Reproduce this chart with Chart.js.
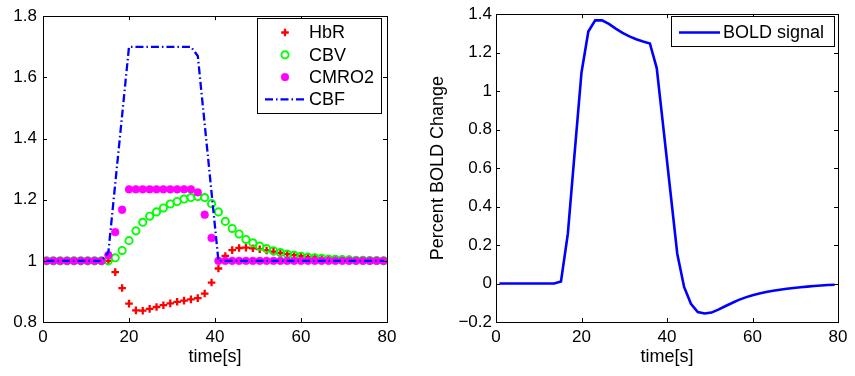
<!DOCTYPE html>
<html>
<head>
<meta charset="utf-8">
<script src="https://cdn.jsdelivr.net/npm/chart.js@4/dist/chart.umd.min.js"></script>
<style>
  html, body { margin: 0; padding: 0; background: #fff; }
  #wrap { position: relative; width: 855px; height: 376px; }
  #leftChart { position: absolute; left: 0; top: 0; }
  #rightChart { position: absolute; left: 420px; top: 0; }
</style>
</head>
<body>
<div id="wrap">
  <canvas id="leftChart" width="420" height="376"></canvas>
  <canvas id="rightChart" width="435" height="376"></canvas>
</div>
<script>
// sample times (s)
const time = [0.8, 2.4, 4, 5.6, 7.2, 8.8, 10.4, 12, 13.6, 15.2,
  16.8, 18.4, 20, 21.6, 23.2, 24.8, 26.4, 28, 29.6, 31.2,
  32.8, 34.4, 36, 37.6, 39.2, 40.8, 42.4, 44, 45.6, 47.2,
  48.8, 50.4, 52, 53.6, 55.2, 56.8, 58.4, 60, 61.6, 63.2,
  64.8, 66.4, 68, 69.6, 71.2, 72.8, 74.4, 76, 77.6, 79.2];

const hbr = [1, 1, 1, 1, 1, 1, 1, 1, 1, 1,
  0.963, 0.911, 0.860, 0.838, 0.837, 0.843, 0.849, 0.855, 0.861, 0.866,
  0.870, 0.874, 0.878, 0.893, 0.929, 0.975, 1.016, 1.035, 1.042, 1.043,
  1.041, 1.038, 1.034, 1.030, 1.026, 1.022, 1.019, 1.016, 1.013, 1.011,
  1.009, 1.007, 1.006, 1.005, 1.004, 1.003, 1.002, 1.002, 1.001, 1.001];

const cbv = [1, 1, 1, 1, 1, 1, 1, 1, 1, 1,
  1.010, 1.034, 1.066, 1.098, 1.126, 1.146, 1.160, 1.173, 1.186, 1.194,
  1.202, 1.207, 1.210, 1.207, 1.187, 1.160, 1.129, 1.106, 1.088, 1.070,
  1.059, 1.048, 1.040, 1.033, 1.027, 1.022, 1.018, 1.015, 1.012, 1.010,
  1.008, 1.006, 1.005, 1.004, 1.003, 1.002, 1.002, 1.001, 1.001, 1.0];

const cmro2 = [1, 1, 1, 1, 1, 1, 1, 1, 1, 1.019,
  1.094, 1.167, 1.234, 1.234, 1.234, 1.234, 1.234, 1.234, 1.234, 1.234,
  1.234, 1.234, 1.224, 1.151, 1.075, 1, 1, 1, 1, 1,
  1, 1, 1, 1, 1, 1, 1, 1, 1, 1,
  1, 1, 1, 1, 1, 1, 1, 1, 1, 1];

const cbf = [1, 1, 1, 1, 1, 1, 1, 1, 1, 1.028,
  1.252, 1.476, 1.7, 1.7, 1.7, 1.7, 1.7, 1.7, 1.7, 1.7,
  1.7, 1.7, 1.67, 1.447, 1.223, 1, 1, 1, 1, 1,
  1, 1, 1, 1, 1, 1, 1, 1, 1, 1,
  1, 1, 1, 1, 1, 1, 1, 1, 1, 1];

// percent BOLD change
const bold = [0, 0, 0, 0, 0, 0, 0, 0, 0, 0.011,
  0.258, 0.68, 1.097, 1.31, 1.368, 1.368, 1.35, 1.325, 1.303, 1.285,
  1.27, 1.258, 1.248, 1.12, 0.8, 0.477, 0.155, -0.018, -0.105, -0.148,
  -0.156, -0.151, -0.136, -0.118, -0.101, -0.085, -0.072, -0.061, -0.052, -0.044,
  -0.038, -0.032, -0.027, -0.023, -0.019, -0.016, -0.013, -0.010, -0.008, -0.006];

const xTicks = [0, 20, 40, 60, 80];
const leftYTicks = [0.8, 1, 1.2, 1.4, 1.6, 1.8];
const rightYTicks = [-0.2, 0, 0.2, 0.4, 0.6, 0.8, 1, 1.2, 1.4];

const FONT = "'Liberation Sans', Arial, Helvetica, sans-serif";
Chart.defaults.font.family = FONT;
Chart.defaults.color = '#000';

function pts(ys) {
    return time.map((t, i) => ({ x: t, y: ys[i] }));
}

function fmt(v) {
    const r = Math.round(v * 10) / 10;
    return r < 0 ? '\u2212' + Math.abs(r) : String(r);
}

// MATLAB style box with inward ticks on all four sides
const boxPlugin = {
    id: 'box',
    afterDatasetsDraw(chart) {
        const { ctx, chartArea: a, scales } = chart;
        ctx.save();
        ctx.strokeStyle = '#000';
        ctx.lineWidth = 1;
        ctx.strokeRect(Math.round(a.left) + 0.5, Math.round(a.top) + 0.5,
            Math.round(a.right - a.left), Math.round(a.bottom - a.top));
        const len = 4;
        ctx.beginPath();
        scales.x.ticks.forEach(t => {
            const px = Math.round(scales.x.getPixelForValue(t.value)) + 0.5;
            ctx.moveTo(px, a.bottom); ctx.lineTo(px, a.bottom - len);
            ctx.moveTo(px, a.top); ctx.lineTo(px, a.top + len);
        });
        scales.y.ticks.forEach(t => {
            const py = Math.round(scales.y.getPixelForValue(t.value)) + 0.5;
            ctx.moveTo(a.left, py); ctx.lineTo(a.left + len, py);
            ctx.moveTo(a.right, py); ctx.lineTo(a.right - len, py);
        });
        ctx.stroke();
        ctx.restore();
    }
};

// legend box drawn inside the plot, MATLAB style
const boxLegend = {
    id: 'boxLegend',
    afterDraw(chart, args, opts) {
        const { ctx } = chart;
        const b = opts.box;
        ctx.save();
        ctx.fillStyle = '#fff';
        ctx.fillRect(b.x, b.y, b.w, b.h);
        ctx.strokeStyle = '#000';
        ctx.lineWidth = 1;
        ctx.strokeRect(b.x + 0.5, b.y + 0.5, b.w, b.h);
        ctx.font = '18px ' + FONT;
        ctx.textBaseline = 'middle';
        opts.items.forEach((it, i) => {
            const ds = chart.data.datasets.find(d => d.label === it);
            const y = b.y + opts.firstRow + i * opts.rowGap;
            if (ds.showLine === false) {
                ctx.fillStyle = ds.pointBackgroundColor;
                ctx.strokeStyle = ds.pointBorderColor;
                ctx.lineWidth = ds.pointBorderWidth;
                Chart.helpers.drawPoint(ctx, {
                    pointStyle: ds.pointStyle,
                    radius: ds.pointRadius,
                    borderWidth: ds.pointBorderWidth,
                    rotation: 0
                }, b.x + opts.markX, y);
            } else {
                ctx.beginPath();
                ctx.strokeStyle = ds.borderColor;
                ctx.lineWidth = ds.borderWidth;
                ctx.setLineDash(ds.borderDash || []);
                ctx.moveTo(b.x + opts.lineX0, y);
                ctx.lineTo(b.x + opts.lineX1, y);
                ctx.stroke();
                ctx.setLineDash([]);
            }
            ctx.fillStyle = '#000';
            ctx.fillText(it, b.x + opts.textX, y + 1);
        });
        ctx.restore();
    }
};

function axes(yMin, yMax, yTickList, yWidth, yTitle) {
    return {
        x: {
            type: 'linear', min: 0, max: 80,
            afterBuildTicks: s => { s.ticks = xTicks.map(v => ({ value: v })); },
            afterFit: s => { s.height = 54; },
            grid: { display: false, drawTicks: false },
            border: { display: false },
            ticks: { padding: 5, font: { size: 17 }, callback: v => fmt(v) },
            title: { display: true, text: 'time[s]', font: { size: 18 }, padding: { top: 0, bottom: 8 } }
        },
        y: {
            min: yMin, max: yMax,
            afterBuildTicks: s => { s.ticks = yTickList.map(v => ({ value: v })); },
            afterFit: s => { s.width = yWidth; },
            grid: { display: false, drawTicks: false },
            border: { display: false },
            ticks: { padding: yTitle ? 4 : 6, font: { size: 17 }, callback: v => fmt(v) },
            title: yTitle ? { display: true, text: yTitle, font: { size: 18 }, padding: { top: 7, bottom: 0 } } : { display: false }
        }
    };
}

new Chart(document.getElementById('leftChart'), {
    type: 'line',
    data: {
        datasets: [
            {
                label: 'CBF', data: pts(cbf), order: 0,
                borderColor: '#0000ff', borderWidth: 2.3, borderDash: [8, 3, 1.5, 3],
                pointRadius: 0, tension: 0, fill: false
            },
            {
                label: 'CMRO2', data: pts(cmro2), order: 1, showLine: false,
                pointStyle: 'circle', pointRadius: 3.9, pointBorderWidth: 0.5,
                pointBackgroundColor: '#ff00ff', pointBorderColor: '#ff00ff'
            },
            {
                label: 'CBV', data: pts(cbv), order: 2, showLine: false,
                pointStyle: 'circle', pointRadius: 3.6, pointBorderWidth: 1.9,
                pointBackgroundColor: 'rgba(0,0,0,0)', pointBorderColor: '#00ff00'
            },
            {
                label: 'HbR', data: pts(hbr), order: 3, showLine: false,
                pointStyle: 'cross', pointRadius: 3.8, pointBorderWidth: 2.3,
                pointBackgroundColor: '#ff0000', pointBorderColor: '#ff0000'
            }
        ]
    },
    options: {
        responsive: false, animation: false, devicePixelRatio: 1,
        layout: { padding: { left: 0, top: 13, right: 33, bottom: 0 } },
        scales: axes(0.8, 1.8, leftYTicks, 43, null),
        plugins: {
            legend: { display: false }, tooltip: { enabled: false },
            boxLegend: {
                box: { x: 257, y: 18, w: 124, h: 95 },
                items: ['HbR', 'CBV', 'CMRO2', 'CBF'],
                firstRow: 14.5, rowGap: 22.3,
                markX: 28, lineX0: 8, lineX1: 47, textX: 52
            }
        }
    },
    plugins: [boxPlugin, boxLegend]
});

new Chart(document.getElementById('rightChart'), {
    type: 'line',
    data: {
        datasets: [
            {
                label: 'BOLD signal', data: pts(bold),
                borderColor: '#0000ff', borderWidth: 2.6,
                pointRadius: 0, tension: 0, fill: false
            }
        ]
    },
    options: {
        responsive: false, animation: false, devicePixelRatio: 1,
        layout: { padding: { left: 0, top: 13, right: 17, bottom: 0 } },
        scales: axes(-0.2, 1.4, rightYTicks, 76, 'Percent BOLD Change'),
        plugins: {
            legend: { display: false }, tooltip: { enabled: false },
            boxLegend: {
                box: { x: 251, y: 16, w: 163, h: 30 },
                items: ['BOLD signal'],
                firstRow: 16.5, rowGap: 22,
                markX: 28, lineX0: 8, lineX1: 49, textX: 52
            }
        }
    },
    plugins: [boxPlugin, boxLegend]
});
</script>
</body>
</html>
